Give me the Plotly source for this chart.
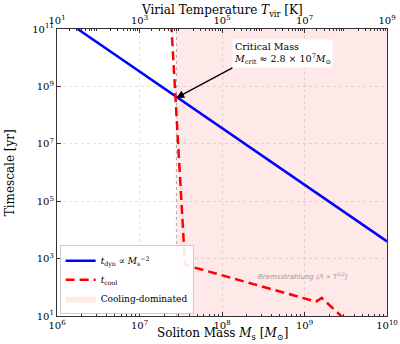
import numpy as np
import plotly.graph_objects as go

# Dynamical time t_dyn ∝ M_s^-2 (endpoints in M_sun, yr)
dyn_mass = [10**6.25, 1e10]
dyn_time = [1e11, 10**3.6]

# Cooling time t_cool (break points in M_sun, yr)
cool_mass = [10**7.385, 10**7.552, 10**9.14, 10**9.21, 10**9.5]
cool_time = [10**11.2, 10**2.78, 10**1.50, 10**1.63, 10**0.85]

# Critical mass where the two timescales cross
m_crit = 2.8e7
t_crit = 10**8.6

# Axis extents
mass_range = [1e6, 1e10]
time_range = [1e1, 1e11]
tvir_range = [1e1, 1e9]

y_tick_vals = [1e1, 1e3, 1e5, 1e7, 1e9, 1e11]
y_tick_text = ["10<sup>1</sup>", "10<sup>3</sup>", "10<sup>5</sup>", "10<sup>7</sup>",
               "10<sup>9</sup>", "10<sup>11</sup>"]
x_tick_vals = [1e6, 1e7, 1e8, 1e9, 1e10]
x_tick_text = ["10<sup>6</sup>", "10<sup>7</sup>", "10<sup>8</sup>", "10<sup>9</sup>",
               "10<sup>10</sup>"]
t_tick_vals = [1e1, 1e3, 1e5, 1e7, 1e9]
t_tick_text = ["10<sup>1</sup>", "10<sup>3</sup>", "10<sup>5</sup>", "10<sup>7</sup>",
               "10<sup>9</sup>"]

SERIF = "DejaVu Serif"
AXC = "#333333"


def minor_ticks(lo, hi):
    out = []
    for e in range(lo, hi):
        out += [k * 10.0**e for k in range(2, 10)]
    return out


fig = go.Figure()

# Cooling-dominated region
fig.add_trace(go.Scatter(
    x=[m_crit, mass_range[1], mass_range[1], m_crit, m_crit],
    y=[time_range[0], time_range[0], time_range[1], time_range[1], time_range[0]],
    fill="toself", fillcolor="rgba(255,0,0,0.09)", mode="lines",
    line=dict(width=0, color="rgba(255,0,0,0.09)"),
    name="Cooling-dominated", legendrank=3, hoverinfo="skip"))

# Critical mass marker
fig.add_trace(go.Scatter(
    x=[m_crit, m_crit], y=time_range, mode="lines",
    line=dict(color="#aaaaaa", width=1, dash="dot"),
    showlegend=False, hoverinfo="skip"))

fig.add_trace(go.Scatter(
    x=dyn_mass, y=dyn_time, mode="lines",
    line=dict(color="#0000ff", width=2.5),
    name="<i>t</i><sub>dyn</sub> ∝ <i>M</i><sub>s</sub><sup>−2</sup>", legendrank=1))

fig.add_trace(go.Scatter(
    x=cool_mass, y=cool_time, mode="lines",
    line=dict(color="#ff0000", width=2.5, dash="9px,5px"),
    name="<i>t</i><sub>cool</sub>", legendrank=2))

# Carrier for the virial temperature axis
fig.add_trace(go.Scatter(
    x=tvir_range, y=time_range, xaxis="x2", mode="lines",
    line=dict(width=0), opacity=0, showlegend=False, hoverinfo="skip"))

fig.add_annotation(
    x=np.log10(m_crit), y=np.log10(t_crit), xref="x", yref="y",
    text="Critical Mass<br><i>M</i><sub>crit</sub> ≈ 2.8 × 10<sup>7</sup><i>M</i><sub>⊙</sub>",
    align="left", xanchor="left", yanchor="bottom",
    showarrow=True, arrowhead=2, arrowsize=1.2, arrowwidth=1.3,
    arrowcolor="black", ax=56, ay=-30, bgcolor="white",
    font=dict(family=SERIF, size=9.5, color="black"), borderpad=1)

fig.add_annotation(
    x=8.98, y=2.39, xref="x", yref="y",
    text="<i>Bremsstrahlung (Λ ∝ T<sup>1/2</sup>)</i>", showarrow=False,
    font=dict(family="DejaVu Sans", size=7, color="#999999"))

# Axis titles
title_font = dict(family=SERIF, size=12, color="black")
fig.add_annotation(x=0.5, y=-0.096, xref="paper", yref="paper", showarrow=False,
                   yanchor="bottom", font=title_font,
                   text="Soliton Mass <i>M</i><sub>s</sub> [<i>M</i><sub>⊙</sub>]")
fig.add_annotation(x=0.5, y=1.098, xref="paper", yref="paper", showarrow=False,
                   yanchor="top", font=title_font,
                   text="Virial Temperature <i>T</i><sub>vir</sub> [K]")
fig.add_annotation(x=-0.143, y=0.5, xref="paper", yref="paper", showarrow=False,
                   xanchor="center", yanchor="middle", textangle=-90, font=title_font,
                   text="Timescale [yr]")

axis_common = dict(
    type="log", showline=True, linecolor=AXC, linewidth=1.3,
    ticks="inside", ticklen=4, tickcolor=AXC, automargin=False,
    tickfont=dict(family=SERIF, size=10, color="black"),
    showgrid=True, gridcolor="#e3e3e3", griddash="dot", gridwidth=1,
    zeroline=False)

fig.update_layout(
    width=400, height=344,
    margin=dict(l=57, r=13, t=29, b=28),
    paper_bgcolor="white", plot_bgcolor="white",
    xaxis=dict(**axis_common, range=[6, 10], tickmode="array",
               tickvals=x_tick_vals, ticktext=x_tick_text, mirror=True,
               minor=dict(tickmode="array", tickvals=minor_ticks(6, 10),
                          ticks="inside", ticklen=2, tickcolor=AXC, showgrid=False)),
    xaxis2=dict(type="log", range=[1, 9], overlaying="x", side="top",
                showline=True, linecolor=AXC, linewidth=1.3, automargin=False,
                ticks="inside", ticklen=4, tickcolor=AXC, showgrid=False,
                tickmode="array", tickvals=t_tick_vals, ticktext=t_tick_text,
                tickfont=dict(family=SERIF, size=10, color="black"),
                minor=dict(tickmode="array", tickvals=minor_ticks(1, 9),
                           ticks="inside", ticklen=2, tickcolor=AXC, showgrid=False)),
    yaxis=dict(**axis_common, range=[1, 11], tickmode="array",
               tickvals=y_tick_vals, ticktext=y_tick_text, mirror=True),
    legend=dict(x=0.008, y=0.006, xanchor="left", yanchor="bottom",
                bgcolor="rgba(255,255,255,0.9)", bordercolor="#cccccc", borderwidth=1,
                font=dict(family=SERIF, size=9, color="black"),
                tracegroupgap=0, itemwidth=30),
    showlegend=True,
)

fig.write_html("out.html")
